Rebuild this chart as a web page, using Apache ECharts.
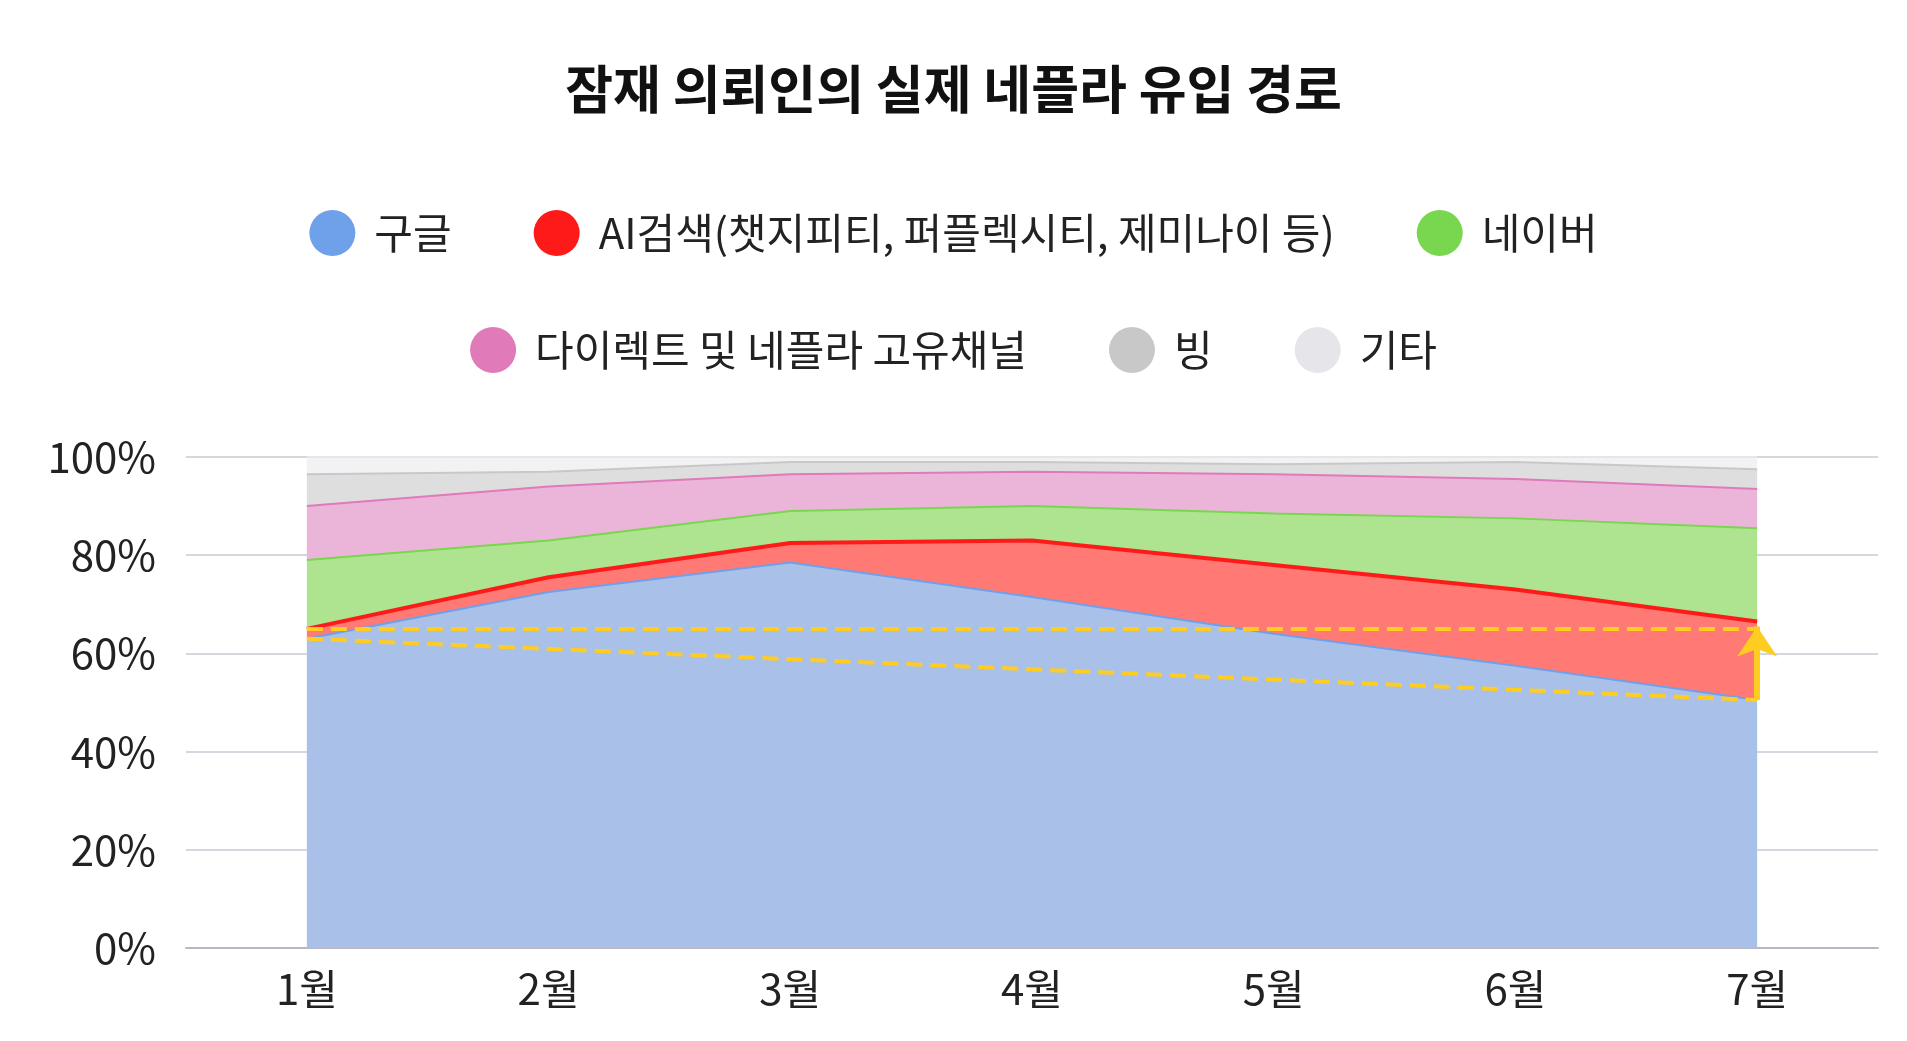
<!DOCTYPE html>
<html>
<head>
<meta charset="utf-8">
<script src="https://cdn.jsdelivr.net/npm/echarts@6/dist/echarts.min.js"></script>
<style>html,body{margin:0;background:#fff}#chart{width:1907px;height:1041px}</style>
</head>
<body>
<div id="chart"></div>
<script>
// 월별 카테고리
var months = ['1월', '2월', '3월', '4월', '5월', '6월', '7월'];
// 유입 경로별 비율(%)
var google = [63, 72.5, 78.5, 71.5, 64, 57.5, 50.5];
var aiSearch = [2, 3, 4, 11.5, 14, 15.5, 16];
var naver = [14, 7.5, 6.5, 7, 10.5, 14.5, 19];
var direct = [11, 11, 7.5, 7, 8, 8, 8];
var bing = [6.5, 3, 2.5, 2, 2, 3.5, 4];
var etc = [3.5, 3, 1, 1, 1.5, 1, 2.5];
var aiName = 'AI검색(챗지피티, 퍼플렉시티, 제미나이 등)';
var directName = '다이렉트 및 네플라 고유채널';

var font = 'Noto Sans CJK KR';
var chart = echarts.init(document.getElementById('chart'));

function makeSeries(name, data, line, fill, extra) {
	var s = {
		name: name, type: 'line', stack: 'total', data: data,
		symbol: 'none', color: line,
		lineStyle: { color: line, width: 2 },
		areaStyle: { color: fill, opacity: 1 }
	};
	return Object.assign(s, extra || {});
}

var legendText = { fontFamily: font, fontSize: 42, color: '#222', padding: [0, 0, 0, 14] };

var option = {
	textStyle: { fontFamily: font },
	title: {
		text: '잠재 의뢰인의 실제 네플라 유입 경로', left: 'center', top: 58,
		textStyle: { fontFamily: font, fontSize: 52, fontWeight: 'bold', color: '#111' }
	},
	legend: [{
		data: ['구글', aiName, '네이버'], top: 205, left: 'center',
		icon: 'circle', itemWidth: 46, itemHeight: 46, itemGap: 82,
		textStyle: legendText
	}, {
		data: [directName, '빙', '기타'], top: 322, left: 'center',
		icon: 'circle', itemWidth: 46, itemHeight: 46, itemGap: 82,
		textStyle: legendText
	}],
	grid: { left: 186, right: 29, top: 457, bottom: 93 },
	xAxis: {
		type: 'category', data: months, boundaryGap: true,
		axisTick: { show: false },
		axisLine: { lineStyle: { color: '#b8b8c4', width: 2 } },
		axisLabel: { fontFamily: font, fontSize: 42, color: '#222', margin: 20 }
	},
	yAxis: {
		type: 'value', min: 0, max: 100, interval: 20,
		axisLabel: { formatter: '{value}%', fontFamily: font, fontSize: 42, color: '#222', margin: 30 },
		splitLine: { lineStyle: { color: '#c8c8d4', width: 1.5 } }
	},
	series: [
		makeSeries('구글', google, '#6fa0ea', '#a9c0e8', {
			markLine: {
				silent: true, symbol: 'none',
				lineStyle: { color: '#ffcc22', type: 'dashed', width: 4 },
				label: { show: false },
				data: [
					[{ coord: ['1월', 65] }, { coord: ['7월', 65] }],
					[{ coord: ['1월', 63] }, { coord: ['7월', 50.5] }],
					[{ coord: ['7월', 50.5], symbol: 'none' },
					 { coord: ['7월', 65.5], symbol: 'arrow', symbolSize: 30,
					   lineStyle: { type: 'solid', width: 6, color: '#ffcc22' } }]
				]
			}
		}),
		makeSeries(aiName, aiSearch, '#ff1a1a', '#ff7a74', { lineStyle: { color: '#ff1a1a', width: 4 } }),
		makeSeries('네이버', naver, '#79d64f', '#aee48f'),
		makeSeries(directName, direct, '#e07ab8', '#ebb5d9'),
		makeSeries('빙', bing, '#c8c8c8', '#dedede'),
		makeSeries('기타', etc, '#e6e6ea', '#f2f2f4')
	]
};
chart.setOption(option);
</script>
</body>
</html>
